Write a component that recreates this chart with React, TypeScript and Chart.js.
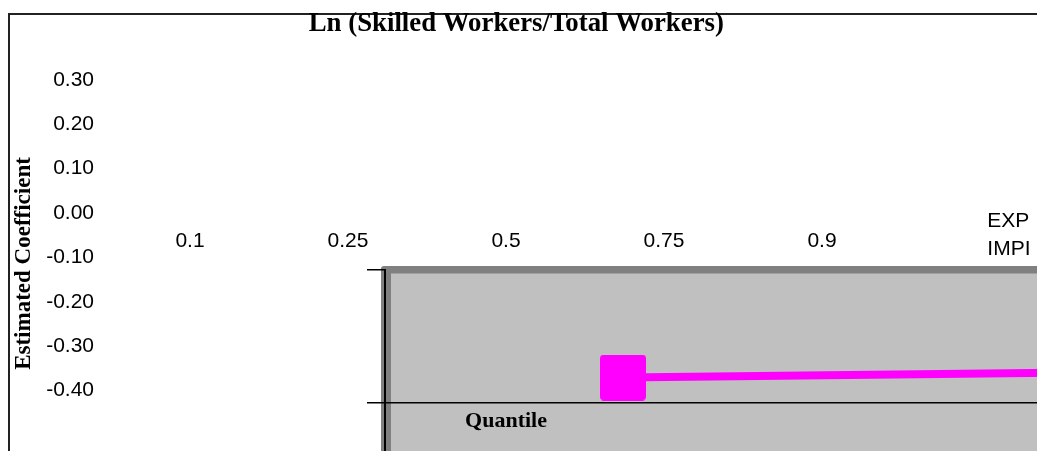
import React, { useEffect, useRef } from 'react';
import { Chart, registerables } from 'chart.js';

Chart.register(...registerables);

// ---- data ----
const quantiles = ['0.1', '0.25', '0.5', '0.75', '0.9'];
const yTickValues = [0.3, 0.2, 0.1, 0, -0.1, -0.2, -0.3, -0.4];
const seriesNames = ['EXP', 'IMPI'];
const impiValues = [0.019, 0.023];
const insetTickValues = [0.1, 0, -0.1];

const TITLE = 'Ln (Skilled Workers/Total Workers)';
const Y_TITLE = 'Estimated Coefficient';
const X_TITLE = 'Quantile';

const SERIF = '"Liberation Serif", "Times New Roman", serif';
const SANS = '"Liberation Sans", Arial, sans-serif';

const frameAndYTitle = {
  id: 'frameAndYTitle',
  beforeDraw(chart: any) {
    const ctx = chart.ctx;
    ctx.save();
    ctx.strokeStyle = '#222';
    ctx.lineWidth = 2;
    ctx.beginPath();
    ctx.moveTo(9, chart.height);
    ctx.lineTo(9, 14);
    ctx.lineTo(chart.width, 14);
    ctx.stroke();
    ctx.restore();
  },
  afterDraw(chart: any) {
    const ctx = chart.ctx;
    ctx.save();
    ctx.translate(24.5, 263.5);
    ctx.rotate(-Math.PI / 2);
    ctx.font = 'bold 23px ' + SERIF;
    ctx.fillStyle = '#000';
    ctx.textAlign = 'center';
    ctx.textBaseline = 'middle';
    ctx.fillText(Y_TITLE, 0, 0);
    ctx.restore();
  },
};

const insetPanel = {
  id: 'insetPanel',
  beforeDraw(chart: any) {
    const { ctx, chartArea: a } = chart;
    ctx.save();
    ctx.fillStyle = '#808080';
    ctx.beginPath();
    if (ctx.roundRect) {
      ctx.roundRect(a.left - 4, a.top - 3.5, a.right - a.left + 4, a.bottom - a.top + 3.5, [3, 0, 0, 0]);
    } else {
      ctx.rect(a.left - 4, a.top - 3.5, a.right - a.left + 4, a.bottom - a.top + 3.5);
    }
    ctx.fill();
    ctx.fillStyle = '#C0C0C0';
    ctx.fillRect(a.left + 6, a.top + 4, a.right - a.left - 6, a.bottom - a.top - 4);
    ctx.restore();
  },
};

function makeMarker(): HTMLCanvasElement {
  const c = document.createElement('canvas');
  c.width = 46;
  c.height = 46;
  const g = c.getContext('2d') as CanvasRenderingContext2D;
  g.fillStyle = '#FF00FF';
  g.beginPath();
  if ((g as any).roundRect) (g as any).roundRect(0, 0, 46, 46, 4);
  else g.rect(0, 0, 46, 46);
  g.fill();
  return c;
}

export default function App() {
  const mainRef = useRef<HTMLCanvasElement>(null);
  const insetRef = useRef<HTMLCanvasElement>(null);

  useEffect(() => {
    const marker = makeMarker();

    const inset = new Chart(insetRef.current as HTMLCanvasElement, {
      type: 'line',
      data: {
        labels: quantiles,
        datasets: [
          {
            label: seriesNames[1],
            data: impiValues,
            borderColor: '#FF00FF',
            backgroundColor: '#FF00FF',
            borderWidth: 8,
            tension: 0,
            fill: false,
            pointStyle: marker as any,
            pointRadius: 23,
            xAxisID: 'x',
            yAxisID: 'y',
          },
        ],
      },
      options: {
        responsive: false,
        animation: false,
        events: [],
        layout: { autoPadding: false, padding: { left: 367, top: 269.5, right: 5, bottom: 3.7 } },
        plugins: { legend: { display: false }, title: { display: false }, tooltip: { enabled: false } },
        scales: {
          x: {
            type: 'category',
            offset: true,
            ticks: { display: false },
            grid: { display: false, drawTicks: false },
            border: { display: false },
            afterFit: (s: any) => { s.height = 0; },
          },
          y: {
            type: 'linear',
            min: -0.1,
            max: 0.1,
            afterBuildTicks: (s: any) => { s.ticks = insetTickValues.map((v) => ({ value: v })); },
            afterFit: (s: any) => { s.width = 18; },
            ticks: { display: false },
            grid: {
              display: true,
              drawTicks: true,
              tickLength: 18,
              lineWidth: 1.5,
              tickColor: '#000',
              color: (c: any) => (c.tick && c.tick.value === 0 ? '#000' : 'rgba(0,0,0,0)'),
            },
            border: { display: true, color: '#000', width: 2 },
          },
        },
      } as any,
      plugins: [insetPanel],
    });

    const main = new Chart(mainRef.current as HTMLCanvasElement, {
      type: 'line',
      data: {
        labels: quantiles,
        datasets: seriesNames.map((n) => ({
          label: n,
          data: [] as number[],
          borderColor: 'rgba(0,0,0,0)',
          backgroundColor: 'rgba(0,0,0,0)',
          xAxisID: 'x',
          yAxisID: 'y',
        })),
      },
      options: {
        responsive: false,
        animation: false,
        events: [],
        layout: { autoPadding: false, padding: { left: 0, right: 4.4, top: 0, bottom: 0 } },
        plugins: {
          title: {
            display: true,
            text: TITLE,
            color: '#000',
            font: { family: SERIF, size: 26.8, weight: 'bold' },
            padding: { top: 8.3, bottom: 39.44 },
          },
          legend: {
            position: 'right',
            fullSize: false,
            maxWidth: 131.6,
            labels: {
              color: '#000',
              font: { family: SANS, size: 21 },
              boxWidth: 68.3,
              padding: 7.5,
              generateLabels: () =>
                seriesNames.map((n, i) => ({
                  text: n,
                  fillStyle: 'rgba(0,0,0,0)',
                  strokeStyle: 'rgba(0,0,0,0)',
                  lineWidth: 0,
                  hidden: false,
                  datasetIndex: i,
                  fontColor: '#000',
                })),
            },
          },
          tooltip: { enabled: false },
        },
        scales: {
          x: {
            type: 'category',
            axis: 'x',
            position: { y: 0 },
            offset: true,
            grid: { display: false, drawTicks: false },
            border: { display: false },
            ticks: {
              color: '#000',
              font: { family: SANS, size: 21 },
              padding: 16,
              maxRotation: 0,
              autoSkip: false,
            },
          },
          xq: {
            type: 'category',
            axis: 'x',
            position: 'bottom',
            offset: true,
            grid: { display: false, drawTicks: false },
            border: { display: false },
            ticks: { display: false },
            title: {
              display: true,
              text: X_TITLE,
              color: '#000',
              font: { family: SERIF, size: 22, weight: 'bold' },
              padding: { top: 17.8, bottom: 16.1 },
            },
          },
          y: {
            type: 'linear',
            position: 'left',
            min: -0.4,
            max: 0.3,
            afterBuildTicks: (s: any) => { s.ticks = yTickValues.map((v) => ({ value: v })); },
            afterFit: (s: any) => { s.width = 111; },
            grid: { display: false, drawTicks: false },
            border: { display: false },
            ticks: {
              color: '#000',
              font: { family: SANS, size: 21 },
              padding: 17,
              callback: (v: any) => Number(v).toFixed(2),
            },
          },
        },
      } as any,
      plugins: [frameAndYTitle],
    });

    return () => {
      main.destroy();
      inset.destroy();
    };
  }, []);

  return (
    <div
      style={{
        position: 'fixed',
        left: 0,
        top: 0,
        width: 1037,
        height: 451,
        overflow: 'hidden',
        background: '#fff',
      }}
    >
      <canvas ref={insetRef} width={2770} height={540} style={{ position: 'absolute', left: 0, top: 0 }} />
      <canvas ref={mainRef} width={1037} height={451} style={{ position: 'absolute', left: 0, top: 0 }} />
    </div>
  );
}
